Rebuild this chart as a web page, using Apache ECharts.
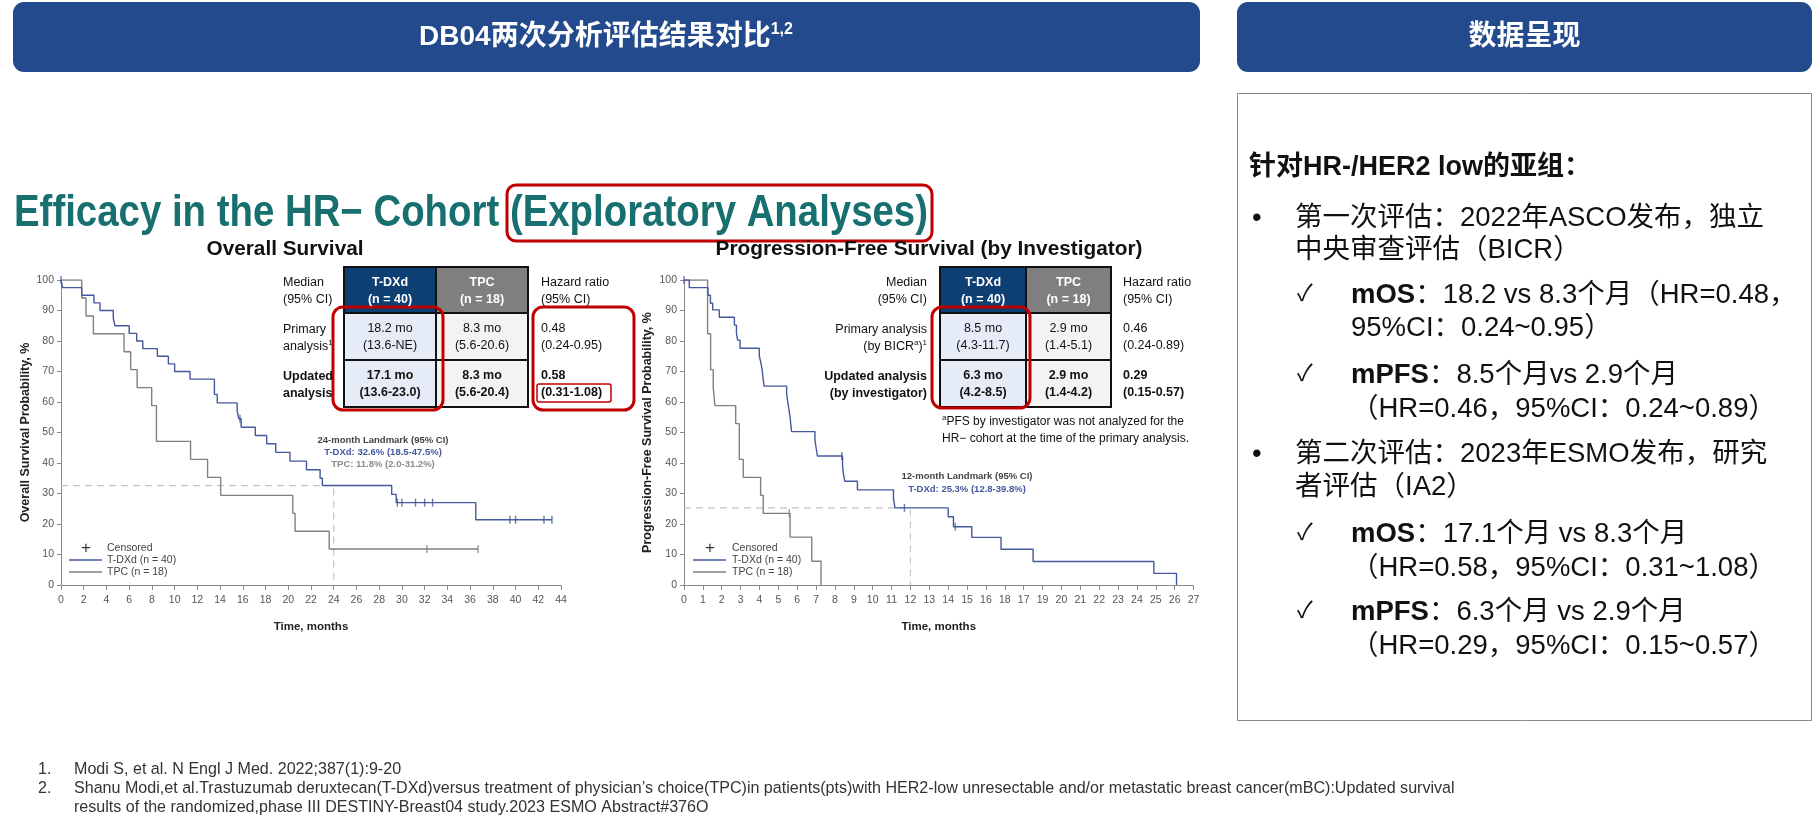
<!DOCTYPE html>
<html><head><meta charset="utf-8">
<script src="https://cdn.jsdelivr.net/npm/echarts@6/dist/echarts.min.js"></script>
<style>html,body{margin:0;padding:0;background:#fff;}#c{width:1818px;height:817px;}</style>
</head><body><div id="c"></div>
<script>
// ---------- DATA ----------
// Overall survival, T-DXd: event times (months) and survival (%) after each step
const osTdxdTime = [0.15, 1.82, 2.9, 3.43, 4.6, 4.75, 6.0, 6.66, 7.2, 8.48, 9.45, 10.0, 11.35, 13.5, 13.75, 15.5, 15.65, 15.85, 17.1, 18.1, 18.9, 20.15, 21.6, 22.8, 23.0, 29.1, 29.5, 36.5];
const osTdxdSurv = [97.5, 95.0, 92.5, 90.0, 87.5, 85.0, 82.5, 80.0, 77.5, 75.0, 72.5, 70.0, 67.5, 62.5, 59.7, 57.2, 54.5, 51.7, 49.0, 46.3, 43.5, 40.6, 37.8, 35.0, 32.6, 29.7, 27.0, 21.4];
const osTdxdEnd = 43.2;
const osTdxdCensor = [[0, 100], [15.75, 54.5], [29.6, 27.0], [30.0, 27.0], [31.2, 27.0], [32.0, 27.0], [32.7, 27.0], [39.5, 21.4], [40.0, 21.4], [42.5, 21.4], [43.2, 21.4]];
// Overall survival, TPC
const osTpcTime = [1.82, 2.2, 2.85, 5.55, 6.13, 6.7, 7.98, 8.4, 11.4, 12.9, 14.05, 20.4, 20.6, 23.6];
const osTpcSurv = [94.1, 88.2, 82.4, 76.5, 70.6, 64.7, 58.8, 47.1, 41.2, 35.3, 29.4, 23.5, 17.6, 11.8];
const osTpcEnd = 36.7;
const osTpcCensor = [[32.2, 11.8], [36.7, 11.8]];
const osLandmark = [24, 32.6];
const osXTicks = {min: 0, max: 44, step: 2};

// Progression-free survival, T-DXd
const pfsTdxdTime = [0.28, 1.27, 1.4, 1.52, 1.87, 2.67, 2.78, 2.84, 2.97, 3.99, 4.08, 4.14, 4.19, 4.24, 5.44, 5.5, 5.56, 5.62, 5.66, 5.7, 6.94, 7.0, 7.07, 8.4, 8.44, 8.52, 9.19, 11.1, 11.18, 14.0, 14.28, 15.25, 16.8, 18.5, 24.9, 26.1];
const pfsTdxdSurv = [97.5, 95.0, 92.4, 90.2, 87.8, 85.2, 82.5, 80.3, 77.6, 75.1, 72.7, 70.5, 67.8, 65.2, 62.6, 60.0, 57.5, 55.0, 52.6, 50.3, 47.6, 45.0, 42.3, 39.5, 36.7, 34.0, 31.2, 28.3, 25.3, 22.4, 19.1, 15.6, 11.7, 7.7, 3.8, 0];
const pfsTdxdEnd = 26.1;
const pfsTdxdCensor = [[0, 100], [8.36, 42.3], [11.68, 25.3], [14.37, 19.1]];
// Progression-free survival, TPC
const pfsTpcTime = [1.25, 1.41, 1.55, 1.64, 2.74, 2.93, 3.14, 4.06, 4.2, 5.62, 6.77, 7.26];
const pfsTpcSurv = [82.4, 70.6, 64.7, 58.8, 52.9, 41.2, 35.3, 29.4, 23.5, 15.7, 7.8, 0];
const pfsTpcEnd = 7.26;
const pfsTpcCensor = [[5.58, 23.5]];
const pfsLandmark = [12, 25.3];
const pfsXTicks = {min: 0, max: 27, step: 1};
// x tick labels as printed in the source figure
const pfsTickLabels = ['0','1','2','3','4','5','6','7','8','9','10','11','12','13','14','15','16','18','17','19','20','21','22','23','24','25','26','27'];
const yTicks = {min: 0, max: 100, step: 10};

// ---------- HELPERS ----------
const FF = '"Liberation Sans", Arial, "Noto Sans CJK SC", sans-serif';
const BLUE = '#44589c', GRAY = '#808080', RED = '#c00000', HDR = '#234a8c';
function kmPath(t, s, end) {
  const pts = [[0, 100]]; let prev = 100;
  for (let i = 0; i < t.length; i++) { pts.push([t[i], prev]); pts.push([t[i], s[i]]); prev = s[i]; }
  if (end > t[t.length - 1]) pts.push([end, prev]);
  return pts;
}
const mctx = document.createElement('canvas').getContext('2d');
function tw(str, size, weight) { mctx.font = (weight || 'normal') + ' ' + size + 'px "Liberation Sans", Arial, "Noto Sans CJK SC"'; return mctx.measureText(str).width; }

const G = [];
function rect(x, y, w, h, fill, stroke, lw, r) {
  G.push({type: 'rect', silent: true, z: 10, shape: {x: x, y: y, width: w, height: h, r: r || 0},
    style: {fill: fill || 'rgba(0,0,0,0)', stroke: stroke || null, lineWidth: lw || 0}});
}
function line(x1, y1, x2, y2, color, lw) {
  G.push({type: 'line', silent: true, z: 10, shape: {x1: x1, y1: y1, x2: x2, y2: y2}, style: {stroke: color, lineWidth: lw}});
}
function text(x, y, str, o, extra) {
  const st = Object.assign({text: str, fontFamily: FF, fontSize: 12, fontWeight: 'normal', fill: '#111', align: 'left', verticalAlign: 'middle'}, o || {});
  G.push(Object.assign({type: 'text', silent: true, z: 20, x: x, y: y, style: st}, extra || {}));
}

// ---------- HEADERS ----------
rect(13, 2, 1187, 70, HDR, null, 0, 11);
text(606, 37, 'DB04两次分析评估结果对比{s|1,2}', {fontSize: 28, fontWeight: 'bold', fill: '#fff', align: 'center',
  rich: {s: {fontSize: 16, fontWeight: 'bold', fill: '#fff', fontFamily: FF, padding: [0, 0, 14, 0]}}});
rect(1237, 2, 575, 70, HDR, null, 0, 11);
text(1524.5, 37, '数据呈现', {fontSize: 28, fontWeight: 'bold', fill: '#fff', align: 'center'});

// ---------- RIGHT PANEL ----------
rect(1237.5, 93.5, 574, 627, null, '#8a8a8a', 1);
const FS = 27.5;
const rp = {fontSize: FS, fill: '#111', rich: {b: {fontSize: FS, fontWeight: 'bold', fill: '#111', fontFamily: FF}}};
const ck = Object.assign({}, rp, {fontSize: 23});
text(1249, 168, '针对HR-/HER2 low的亚组：', {fontSize: 27, fontWeight: 'bold'});
text(1252, 218, '•', rp);
text(1295, 218, '第一次评估：2022年ASCO发布，独立', rp);
text(1295, 250, '中央审查评估（BICR）', rp);
text(1297, 295, '✓', ck);
text(1351, 295, '{b|mOS}：18.2 vs 8.3个月（HR=0.48，', rp);
text(1351, 328, '95%CI：0.24~0.95）', rp);
text(1297, 375, '✓', ck);
text(1351, 375, '{b|mPFS}：8.5个月vs 2.9个月', rp);
text(1351, 409, '（HR=0.46，95%CI：0.24~0.89）', rp);
text(1252, 454, '•', rp);
text(1295, 454, '第二次评估：2023年ESMO发布，研究', rp);
text(1295, 487, '者评估（IA2）', rp);
text(1297, 534, '✓', ck);
text(1351, 534, '{b|mOS}：17.1个月 vs 8.3个月', rp);
text(1351, 568, '（HR=0.58，95%CI：0.31~1.08）', rp);
text(1297, 612, '✓', ck);
text(1351, 612, '{b|mPFS}：6.3个月 vs 2.9个月', rp);
text(1351, 646, '（HR=0.29，95%CI：0.15~0.57）', rp);

// ---------- BIG TITLE ----------
const titleStr = 'Efficacy in the HR\u2212 Cohort (Exploratory Analyses)';
const tSx = 914 / tw(titleStr, 44, 'bold');
text(14, 214, titleStr, {fontSize: 44, fontWeight: 'bold', fill: '#17706f'}, {scaleX: tSx});
rect(507, 185, 425, 56, null, RED, 3, 9);
const t1 = 'Overall Survival', t2 = 'Progression-Free Survival (by Investigator)';
text(285, 249, t1, {fontSize: 20, fontWeight: 'bold', align: 'center'}, {scaleX: 157 / tw(t1, 20, 'bold')});
text(929, 249, t2, {fontSize: 20, fontWeight: 'bold', align: 'center'}, {scaleX: 427 / tw(t2, 20, 'bold')});

// ---------- TABLES ----------
const rowsY = [267, 313, 360, 407];
function table(cx, cells, hr) {
  const fills = [['#0d3f73', '#7f7f7f'], ['#e6ecf7', '#f3f3f3'], ['#e6ecf7', '#f3f3f3']];
  for (let r = 0; r < 3; r++) for (let c = 0; c < 2; c++) {
    rect(cx[c], rowsY[r], cx[c + 1] - cx[c], rowsY[r + 1] - rowsY[r], fills[r][c], '#111', 2);
    const bold = r !== 1;
    const col = r === 0 ? '#fff' : '#111';
    text((cx[c] + cx[c + 1]) / 2, (rowsY[r] + rowsY[r + 1]) / 2 + 1, cells[r][c], {fontSize: 12.5, fontWeight: bold ? 'bold' : 'normal', fill: col, align: 'center', lineHeight: 17});
  }
  for (let r = 0; r < 3; r++) text(hr.x, (rowsY[r] + rowsY[r + 1]) / 2 + 1, hr.t[r], {fontSize: 12.5, fontWeight: r === 2 ? 'bold' : 'normal', lineHeight: 17});
}
table([344, 436, 528], [['T-DXd\n(n = 40)', 'TPC\n(n = 18)'], ['18.2 mo\n(13.6-NE)', '8.3 mo\n(5.6-20.6)'], ['17.1 mo\n(13.6-23.0)', '8.3 mo\n(5.6-20.4)']],
  {x: 541, t: ['Hazard ratio\n(95% CI)', '0.48\n(0.24-0.95)', '0.58\n(0.31-1.08)']});
table([940, 1026, 1111], [['T-DXd\n(n = 40)', 'TPC\n(n = 18)'], ['8.5 mo\n(4.3-11.7)', '2.9 mo\n(1.4-5.1)'], ['6.3 mo\n(4.2-8.5)', '2.9 mo\n(1.4-4.2)']],
  {x: 1123, t: ['Hazard ratio\n(95% CI)', '0.46\n(0.24-0.89)', '0.29\n(0.15-0.57)']});
const supRich = {u: {fontSize: 8, fontFamily: FF, fill: '#111', padding: [0, 0, 7, 0]}};
text(283, 291, 'Median\n(95% CI)', {fontSize: 12.5, lineHeight: 17});
text(283, 338, 'Primary\nanalysis{u|1}', {fontSize: 12.5, lineHeight: 17, rich: supRich});
text(283, 385, 'Updated\nanalysis', {fontSize: 12.5, lineHeight: 17, fontWeight: 'bold'});
text(927, 291, 'Median\n(95% CI)', {fontSize: 12.5, lineHeight: 17, align: 'right'});
text(927, 338, 'Primary analysis\n(by BICR{u|a}){u|1}', {fontSize: 12.5, lineHeight: 17, align: 'right', rich: supRich});
text(927, 385, 'Updated analysis\n(by investigator)', {fontSize: 12.5, lineHeight: 17, align: 'right', fontWeight: 'bold'});
text(942, 430, '{u|a}PFS by investigator was not analyzed for the\nHR\u2212 cohort at the time of the primary analysis.', {fontSize: 12, lineHeight: 17, rich: supRich});
// red highlight boxes
rect(333, 307, 110, 103, null, RED, 3, 10);
rect(533, 307, 101, 103, null, RED, 3, 10);
rect(537, 384, 74, 18, null, RED, 1.5, 2);
rect(932, 307, 98, 101, null, RED, 3, 10);

// ---------- LANDMARK TEXTS ----------
text(383, 440, '24-month Landmark (95% CI)', {fontSize: 9.5, fontWeight: 'bold', fill: '#444', align: 'center'});
text(383, 452, 'T-DXd: 32.6% (18.5-47.5%)', {fontSize: 9.5, fontWeight: 'bold', fill: BLUE, align: 'center'});
text(383, 464, 'TPC: 11.8% (2.0-31.2%)', {fontSize: 9.5, fontWeight: 'bold', fill: '#8a8a8a', align: 'center'});
text(967, 476, '12-month Landmark (95% CI)', {fontSize: 9.5, fontWeight: 'bold', fill: '#444', align: 'center'});
text(967, 489, 'T-DXd: 25.3% (12.8-39.8%)', {fontSize: 9.5, fontWeight: 'bold', fill: BLUE, align: 'center'});

// ---------- LEGENDS ----------
function legend(px, lx1, lx2, tx) {
  text(px, 548, '+', {fontSize: 17, fill: '#333', align: 'center'});
  text(tx, 548, 'Censored', {fontSize: 10.5, fill: '#444'});
  line(lx1, 560, lx2, 560, BLUE, 1.4);
  text(tx, 560, 'T-DXd (n = 40)', {fontSize: 10.5, fill: '#444'});
  line(lx1, 572, lx2, 572, GRAY, 1.4);
  text(tx, 572, 'TPC (n = 18)', {fontSize: 10.5, fill: '#444'});
}
legend(86, 69, 102, 107);
legend(710, 693, 726, 732);

// ---------- FOOTNOTES ----------
const fn1 = 'Modi S, et al. N Engl J Med. 2022;387(1):9-20';
const fn2 = 'Shanu Modi,et al.Trastuzumab deruxtecan(T-DXd)versus treatment of physician\u2019s choice(TPC)in patients(pts)with HER2-low unresectable and/or metastatic breast cancer(mBC):Updated survival';
const fn3 = 'results of the randomized,phase III DESTINY-Breast04 study.2023 ESMO Abstract#376O';
const fSize = 14 * 1381 / tw(fn2, 14);
text(38, 770, '1.', {fontSize: fSize, fill: '#333'});
text(74, 770, fn1, {fontSize: fSize, fill: '#333'});
text(38, 789, '2.', {fontSize: fSize, fill: '#333'});
text(74, 789, fn2, {fontSize: fSize, fill: '#333'});
text(74, 808, fn3, {fontSize: fSize, fill: '#333'});

// ---------- CHART ----------
const axisCol = '#8a8a8a';
function xAxisCfg(gi, tk, fmt) {
  return {type: 'value', gridIndex: gi, min: tk.min, max: tk.max, interval: tk.step,
    axisLine: {show: true, lineStyle: {color: axisCol, width: 1}}, axisTick: {show: true, length: 5, lineStyle: {color: axisCol}},
    splitLine: {show: false}, axisLabel: {fontFamily: FF, fontSize: 10.5, color: '#555', margin: 10, formatter: fmt},
    name: 'Time, months', nameLocation: 'middle', nameGap: 36, nameTextStyle: {fontFamily: FF, fontSize: 11.5, fontWeight: 'bold', color: '#222'}};
}
function yAxisCfg(gi, nm, gap) {
  return {type: 'value', gridIndex: gi, min: yTicks.min, max: yTicks.max, interval: yTicks.step,
    axisLine: {show: true, lineStyle: {color: axisCol, width: 1}}, axisTick: {show: true, length: 4, lineStyle: {color: axisCol}},
    splitLine: {show: false}, axisLabel: {fontFamily: FF, fontSize: 10.5, color: '#555', margin: 7},
    name: nm, nameLocation: 'middle', nameRotate: 90, nameGap: gap, nameTextStyle: {fontFamily: FF, fontSize: 12.5, fontWeight: 'bold', color: '#222'}};
}
function km(gi, t, s, end, color) {
  return {type: 'line', xAxisIndex: gi, yAxisIndex: gi, data: kmPath(t, s, end), showSymbol: false, symbol: 'none',
    lineStyle: {color: color, width: 1.4}, z: 3, silent: true};
}
function cens(gi, pts, color) {
  return {type: 'scatter', xAxisIndex: gi, yAxisIndex: gi, data: pts, symbol: 'rect', symbolSize: [1.4, 8],
    itemStyle: {color: color}, z: 4, silent: true};
}
function landmark(gi, lm) {
  return {type: 'line', xAxisIndex: gi, yAxisIndex: gi, data: [[0, lm[1]], [lm[0], lm[1]], [lm[0], 0]], showSymbol: false, symbol: 'none',
    lineStyle: {color: '#c4c4c4', width: 1.2, type: [7, 5]}, z: 1, silent: true};
}

const chart = echarts.init(document.getElementById('c'), null, {renderer: 'canvas'});
chart.setOption({
  animation: false,
  backgroundColor: '#fff',
  grid: [{left: 61, top: 280, width: 500, height: 305}, {left: 684, top: 280, width: 509.5, height: 305}],
  xAxis: [xAxisCfg(0, osXTicks), xAxisCfg(1, pfsXTicks, function (v) { return pfsTickLabels[v]; })],
  yAxis: [yAxisCfg(0, 'Overall Survival Probability, %', 29), yAxisCfg(1, 'Progression-Free Survival Probability, %', 30)],
  series: [
    landmark(0, osLandmark),
    km(0, osTpcTime, osTpcSurv, osTpcEnd, GRAY),
    km(0, osTdxdTime, osTdxdSurv, osTdxdEnd, BLUE),
    cens(0, osTpcCensor, GRAY),
    cens(0, osTdxdCensor, BLUE),
    landmark(1, pfsLandmark),
    km(1, pfsTpcTime, pfsTpcSurv, pfsTpcEnd, GRAY),
    km(1, pfsTdxdTime, pfsTdxdSurv, pfsTdxdEnd, BLUE),
    cens(1, pfsTpcCensor, GRAY),
    cens(1, pfsTdxdCensor, BLUE)
  ],
  graphic: G
});
</script></body></html>
